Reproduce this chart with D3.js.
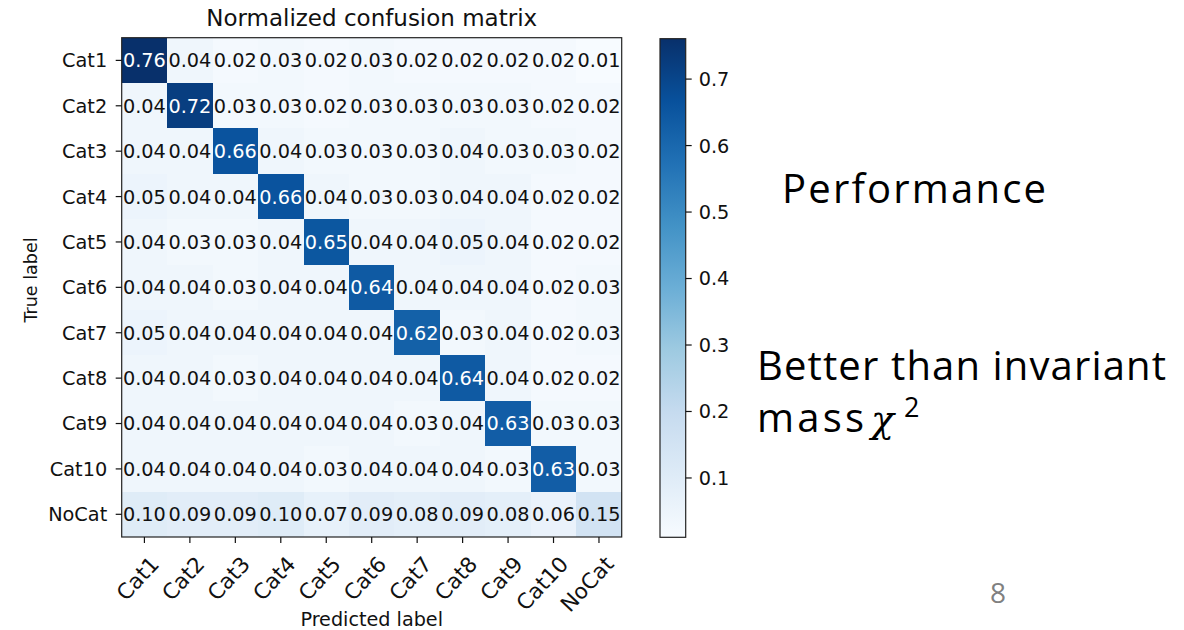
<!DOCTYPE html>
<html>
<head>
<meta charset="utf-8">
<script src="https://cdn.jsdelivr.net/npm/d3@7"></script>
<style>
  html, body { margin: 0; padding: 0; background: #ffffff; }
  svg { display: block; }
</style>
</head>
<body>
<svg id="slide" width="1184" height="630"></svg>
<script>
// Class labels shared by both axes
const categories = ["Cat1", "Cat2", "Cat3", "Cat4", "Cat5", "Cat6", "Cat7", "Cat8", "Cat9", "Cat10", "NoCat"];

// Normalized confusion matrix, one array per true label
const rowCat1  = [0.76, 0.04, 0.02, 0.03, 0.02, 0.03, 0.02, 0.02, 0.02, 0.02, 0.01];
const rowCat2  = [0.04, 0.72, 0.03, 0.03, 0.02, 0.03, 0.03, 0.03, 0.03, 0.02, 0.02];
const rowCat3  = [0.04, 0.04, 0.66, 0.04, 0.03, 0.03, 0.03, 0.04, 0.03, 0.03, 0.02];
const rowCat4  = [0.05, 0.04, 0.04, 0.66, 0.04, 0.03, 0.03, 0.04, 0.04, 0.02, 0.02];
const rowCat5  = [0.04, 0.03, 0.03, 0.04, 0.65, 0.04, 0.04, 0.05, 0.04, 0.02, 0.02];
const rowCat6  = [0.04, 0.04, 0.03, 0.04, 0.04, 0.64, 0.04, 0.04, 0.04, 0.02, 0.03];
const rowCat7  = [0.05, 0.04, 0.04, 0.04, 0.04, 0.04, 0.62, 0.03, 0.04, 0.02, 0.03];
const rowCat8  = [0.04, 0.04, 0.03, 0.04, 0.04, 0.04, 0.04, 0.64, 0.04, 0.02, 0.02];
const rowCat9  = [0.04, 0.04, 0.04, 0.04, 0.04, 0.04, 0.03, 0.04, 0.63, 0.03, 0.03];
const rowCat10 = [0.04, 0.04, 0.04, 0.04, 0.03, 0.04, 0.04, 0.04, 0.03, 0.63, 0.03];
const rowNoCat = [0.10, 0.09, 0.09, 0.10, 0.07, 0.09, 0.08, 0.09, 0.08, 0.06, 0.15];

// Colorbar tick labels
const colorbarTicks = [0.1, 0.2, 0.3, 0.4, 0.5, 0.6, 0.7];

// Sequential "Blues" ramp (light to dark)
const bluesStops = ["#f7fbff", "#deebf7", "#c6dbef", "#9ecae1", "#6baed6", "#4292c6", "#2171b5", "#08519c", "#08306b"];

const rows = [rowCat1, rowCat2, rowCat3, rowCat4, rowCat5, rowCat6, rowCat7, rowCat8, rowCat9, rowCat10, rowNoCat];
const cells = [];
rows.forEach((r, i) => r.forEach((v, j) => cells.push({ t: categories[i], p: categories[j], v })));

const svg = d3.select("#slide");
svg.append("rect").attr("width", 1184).attr("height", 630).attr("fill", "#ffffff");

const chartFont = "'DejaVu Sans', sans-serif";
const fs = 19.3;
const ink = "#111111";

// Layout of the heatmap axes
const plot = { left: 121.7, right: 621.7, top: 37.7, bottom: 537 };

const x = d3.scaleBand().domain(categories).range([plot.left, plot.right]);
const y = d3.scaleBand().domain(categories).range([plot.top, plot.bottom]);

const [vmin, vmax] = d3.extent(cells, d => d.v);
const stopDomain = bluesStops.map((_, i) => vmin + i * (vmax - vmin) / (bluesStops.length - 1));
const color = d3.scaleLinear().domain(stopDomain).range(bluesStops).interpolate(d3.interpolateRgb).clamp(true);
const thresh = vmax / 2;

// Cells
svg.append("g")
  .selectAll("rect")
  .data(cells)
  .join("rect")
  .attr("x", d => x(d.p))
  .attr("y", d => y(d.t))
  .attr("width", x.bandwidth())
  .attr("height", y.bandwidth())
  .attr("fill", d => color(d.v))
  .attr("shape-rendering", "crispEdges");

// Cell annotations
svg.append("g")
  .attr("font-family", chartFont)
  .attr("font-size", fs)
  .selectAll("text")
  .data(cells)
  .join("text")
  .attr("x", d => x(d.p) + x.bandwidth() / 2)
  .attr("y", d => y(d.t) + y.bandwidth() / 2)
  .attr("dy", "0.36em")
  .attr("text-anchor", "middle")
  .attr("fill", d => d.v > thresh ? "#ffffff" : ink)
  .text(d => d.v.toFixed(2));

// Frame around the heatmap
svg.append("rect")
  .attr("x", plot.left).attr("y", plot.top)
  .attr("width", plot.right - plot.left).attr("height", plot.bottom - plot.top)
  .attr("fill", "none").attr("stroke", "#222222").attr("stroke-width", 1.2);

// Y axis (true label)
const yAxis = svg.append("g")
  .attr("transform", `translate(${plot.left},0)`)
  .call(d3.axisLeft(y).tickSize(6).tickPadding(8.5));
yAxis.select(".domain").remove();
yAxis.selectAll("line").attr("stroke", ink).attr("stroke-width", 1.2);
yAxis.selectAll("text")
  .attr("font-family", chartFont).attr("font-size", fs).attr("fill", ink)
  .attr("dy", "0.36em");

// X axis (predicted label), labels turned 45 degrees about their top-right corner
const xAxis = svg.append("g")
  .attr("transform", `translate(0,${plot.bottom})`)
  .call(d3.axisBottom(x).tickSize(6));
xAxis.select(".domain").remove();
xAxis.selectAll("line").attr("stroke", ink).attr("stroke-width", 1.2);
xAxis.selectAll("text")
  .attr("font-family", chartFont).attr("font-size", 21.5).attr("fill", ink)
  .attr("x", 0).attr("y", 0)
  .attr("dy", "0.76em")
  .attr("text-anchor", "end")
  .attr("transform", "translate(4,17) rotate(-47)");

// Title and axis titles
svg.append("text")
  .attr("x", (plot.left + plot.right) / 2).attr("y", 26)
  .attr("text-anchor", "middle")
  .attr("font-family", chartFont).attr("font-size", 23).attr("fill", ink)
  .text("Normalized confusion matrix");

svg.append("text")
  .attr("x", (plot.left + plot.right) / 2).attr("y", 626)
  .attr("text-anchor", "middle")
  .attr("font-family", chartFont).attr("font-size", 19.2).attr("fill", ink)
  .text("Predicted label");

svg.append("text")
  .attr("transform", "translate(37,280) rotate(-90)")
  .attr("text-anchor", "middle")
  .attr("font-family", chartFont).attr("font-size", 17.5).attr("fill", ink)
  .text("True label");

// Colorbar
const cb = { left: 660, width: 25.7, top: 38.7, bottom: 537.3 };
const cbScale = d3.scaleLinear().domain([vmin, vmax]).range([cb.bottom, cb.top]);

const defs = svg.append("defs");
const grad = defs.append("linearGradient")
  .attr("id", "cbGrad").attr("x1", 0).attr("y1", 1).attr("x2", 0).attr("y2", 0);
grad.selectAll("stop")
  .data(stopDomain)
  .join("stop")
  .attr("offset", (d, i) => i / (stopDomain.length - 1))
  .attr("stop-color", d => color(d));

svg.append("rect")
  .attr("x", cb.left).attr("y", cb.top)
  .attr("width", cb.width).attr("height", cb.bottom - cb.top)
  .attr("fill", "url(#cbGrad)")
  .attr("stroke", "#222222").attr("stroke-width", 1.2);

const cbAxis = svg.append("g")
  .attr("transform", `translate(${cb.left + cb.width},0)`)
  .call(d3.axisRight(cbScale).tickValues(colorbarTicks).tickSize(6).tickPadding(7).tickFormat(d3.format(".1f")));
cbAxis.select(".domain").remove();
cbAxis.selectAll("line").attr("stroke", ink).attr("stroke-width", 1.2);
cbAxis.selectAll("text")
  .attr("font-family", chartFont).attr("font-size", fs).attr("fill", ink)
  .attr("dy", "0.36em");

// Slide notes beside the chart
const noteFont = "'Open Sans', 'Noto Sans', sans-serif";
svg.append("text")
  .attr("x", 782).attr("y", 203.3)
  .attr("font-family", noteFont).attr("font-size", 40).attr("fill", "#000000")
  .attr("textLength", 264).attr("lengthAdjust", "spacing")
  .text("Performance");

svg.append("text")
  .attr("x", 757).attr("y", 380)
  .attr("font-family", noteFont).attr("font-size", 40).attr("fill", "#000000")
  .attr("textLength", 409).attr("lengthAdjust", "spacing")
  .text("Better than invariant");

svg.append("text")
  .attr("x", 757).attr("y", 431.7)
  .attr("font-family", noteFont).attr("font-size", 40).attr("fill", "#000000")
  .attr("textLength", 107).attr("lengthAdjust", "spacing")
  .text("mass");

svg.append("text")
  .attr("x", 871).attr("y", 431.7)
  .attr("font-family", "'DejaVu Serif', 'Liberation Serif', serif")
  .attr("font-style", "italic")
  .attr("font-size", 38).attr("fill", "#000000")
  .text("χ");

svg.append("text")
  .attr("x", 904).attr("y", 417)
  .attr("font-family", noteFont).attr("font-size", 27).attr("fill", "#000000")
  .text("2");

// Slide number
svg.append("text")
  .attr("x", 998).attr("y", 603.3)
  .attr("text-anchor", "middle")
  .attr("font-family", noteFont).attr("font-size", 28).attr("fill", "#808080")
  .text("8");
</script>
</body>
</html>
